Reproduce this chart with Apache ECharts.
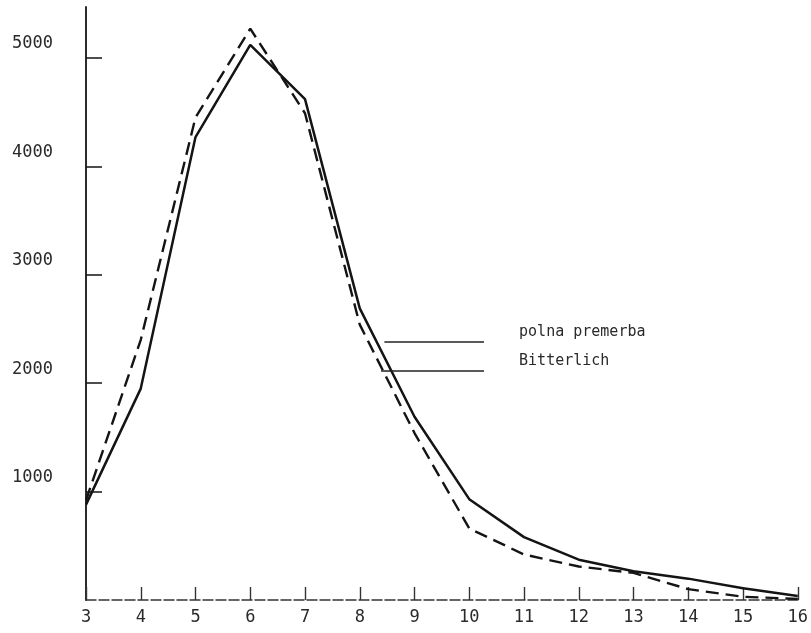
<!DOCTYPE html>
<html>
<head>
<meta charset="utf-8">
<script src="https://cdn.jsdelivr.net/npm/echarts@6/dist/echarts.min.js"></script>
<style>
  html, body { margin: 0; padding: 0; background: #ffffff; }
  #chart { width: 811px; height: 633px; }
</style>
</head>
<body>
<div id="chart"></div>
<script>
// Diameter classes on the horizontal axis
const classes = [3, 4, 5, 6, 7, 8, 9, 10, 11, 12, 13, 14, 15, 16];

// Field measurement (solid line)
const polnaPremerba = [880, 1950, 4270, 5120, 4620, 2690, 1690, 930, 580, 372, 265, 197, 108, 37];

// Bitterlich method (dashed line)
const bitterlich = [920, 2400, 4450, 5270, 4490, 2540, 1540, 660, 420, 309, 250, 100, 30, 10];

// Tick values on the vertical axis
const yTicks = [1000, 2000, 3000, 4000, 5000];

// Key labels and the points where their leader lines start / end
const keyNames = ['polna premerba', 'Bitterlich'];
const keyLines = [
  { from: [8.45, 2380], to: [10.27, 2380] },
  { from: [8.39, 2113], to: [10.27, 2113] }
];

const ink = '#141414';
const textInk = '#2a2a2a';
const font = '"DejaVu Sans Mono", "Liberation Mono", monospace';

const chart = echarts.init(document.getElementById('chart'), null, { renderer: 'canvas' });

const option = {
  animation: false,
  backgroundColor: '#ffffff',
  grid: { left: 86, right: 12, top: 7, bottom: 33, containLabel: false },
  xAxis: {
    type: 'value',
    min: 3,
    max: 16,
    interval: 1,
    axisLine: { show: true, lineStyle: { color: '#333', width: 1.5, type: [10, 3] } },
    axisTick: { show: true, inside: true, length: 13, lineStyle: { color: '#333', width: 1.4 } },
    axisLabel: {
      show: true, margin: 9, color: textInk, fontFamily: font, fontSize: 17,
      formatter: v => String(v)
    },
    splitLine: { show: false }
  },
  yAxis: {
    type: 'value',
    min: 0,
    max: 5470,
    interval: 1000,
    axisLine: { show: true, onZero: false, lineStyle: { color: ink, width: 1.8 } },
    axisTick: {
      show: true, inside: true, length: 16,
      customValues: yTicks,
      lineStyle: { color: ink, width: 1.5 }
    },
    axisLabel: {
      show: true, margin: 33, color: textInk, fontFamily: font, fontSize: 17,
      customValues: yTicks,
      formatter: v => String(v),
      verticalAlign: 'bottom',
      lineHeight: 28
    },
    splitLine: { show: false }
  },
  series: [
    {
      name: keyNames[0],
      type: 'line',
      data: classes.map((c, i) => [c, polnaPremerba[i]]),
      symbol: 'none',
      lineStyle: { color: ink, width: 2.5 }
    },
    {
      name: keyNames[1],
      type: 'line',
      data: classes.map((c, i) => [c, bitterlich[i]]),
      symbol: 'none',
      lineStyle: { color: ink, width: 2.4, type: [13, 7] }
    }
  ]
};

chart.setOption(option);

// Leader lines and key text, placed through the chart's own coordinate system
const graphics = [];
keyLines.forEach((k, i) => {
  const p0 = chart.convertToPixel({ gridIndex: 0 }, k.from);
  const p1 = chart.convertToPixel({ gridIndex: 0 }, k.to);
  graphics.push({
    type: 'line',
    shape: { x1: p0[0], y1: p0[1], x2: p1[0], y2: p1[1] },
    style: { stroke: '#222', lineWidth: 1.6 },
    z: 5
  });
  graphics.push({
    type: 'text',
    x: p1[0] + 35,
    y: p1[1] - 10,
    style: {
      text: keyNames[i],
      fill: textInk,
      font: '15px ' + font,
      textVerticalAlign: 'middle',
      verticalAlign: 'middle'
    },
    z: 5
  });
});
chart.setOption({ graphic: graphics });
</script>
</body>
</html>
